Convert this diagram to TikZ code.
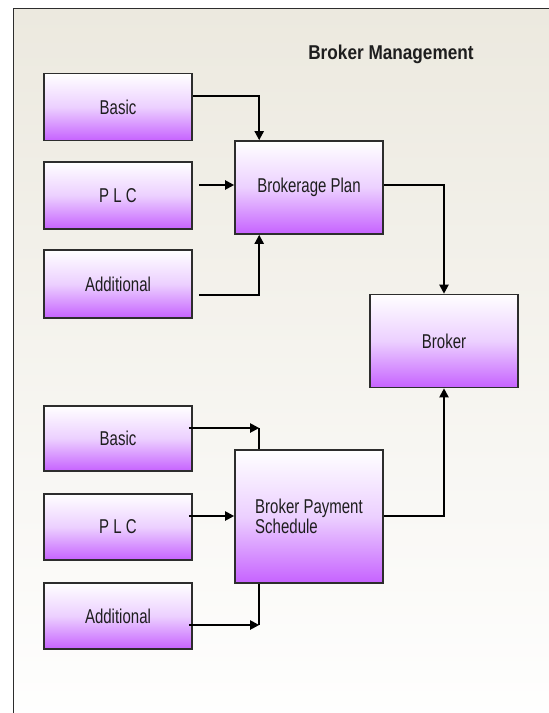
\documentclass[tikz,border=0pt]{standalone}
\usepackage{fontspec}
\setmainfont{Liberation Sans}
\usetikzlibrary{arrows.meta,calc}
\definecolor{panelbeige}{RGB}{236,233,223}
\definecolor{boxviolet}{RGB}{198,98,255}
\definecolor{boxlilac}{RGB}{236,208,255}
\definecolor{edgegray}{RGB}{45,45,45}
\definecolor{labelgray}{RGB}{30,30,30}
\tikzset{
  unitbox/.style={draw=edgegray, line width=1.6pt, inner sep=0pt,
    top color=white, bottom color=boxviolet, middle color=boxlilac,
    minimum width=148pt, text=labelgray,
    font=\fontsize{20}{21}\selectfont},
  link/.style={draw=black, line width=2pt},
  flow/.style={link, -{Triangle[length=9pt,width=9pt]}},
}
\newcommand{\narrow}[1]{\scalebox{0.75}[1]{#1}}
\begin{document}
\begin{tikzpicture}[x=1pt,y=-1pt]
  \useasboundingbox (0,0) rectangle (549,713);
  % panel background
  \shade[top color=panelbeige, bottom color=white] (13,8) rectangle (560,740);
  \draw[edgegray, line width=1pt] (13,740) -- (13,8) -- (560,8);

  % title
  \node[font=\fontsize{20}{22}\selectfont\bfseries, text=labelgray] (title) at (391,54) {\scalebox{0.86}[1]{Broker Management}};

  % upper group
  \node[unitbox, minimum height=67pt] (b1) at (118,107) {\narrow{Basic}};
  \node[unitbox, minimum height=67pt] (p1) at (118,195.5) {\narrow{P L C}};
  \node[unitbox, minimum height=68pt] (a1) at (118,284) {\narrow{Additional}};
  \node[unitbox, minimum height=93pt] (bp) at (309,187.5) {\narrow{Brokerage Plan}};

  % broker
  \node[unitbox, minimum height=93pt] (br) at (444,341) {\narrow{Broker}};

  % lower group
  \node[unitbox, minimum height=65pt] (b2) at (118,438.5) {\narrow{Basic}};
  \node[unitbox, minimum height=66pt] (p2) at (118,527) {\narrow{P L C}};
  \node[unitbox, minimum height=66pt] (a2) at (118,616) {\narrow{Additional}};
  \node[unitbox, minimum height=133pt, align=left] (bps) at (309,516.5)
    {\narrow{Broker Payment}\\[-1pt]\narrow{Schedule}};

  % upper connectors
  \draw[flow] ([yshift=11pt]b1.east) -| ([xshift=25pt]bp.north west);
  \draw[flow] ([xshift=6pt,yshift=10.5pt]p1.east) -- ([yshift=10.5pt]p1.east -| bp.west);
  \draw[flow] ([xshift=6pt,yshift=-11pt]a1.east) -| ([xshift=25pt]bp.south west);
  \draw[flow] ([yshift=2.5pt]bp.east) -| (br.north);

  % lower connectors
  \coordinate (jb) at ([yshift=10.5pt]b2.east -| {$([xshift=25pt]bps.north west)$});
  \coordinate (ja) at ([yshift=-9pt]a2.east -| {$([xshift=25pt]bps.south west)$});
  \draw[flow] ([xshift=-4pt,yshift=10.5pt]b2.east) -- (jb);
  \draw[link] (jb) -- ([xshift=25pt]bps.north west);
  \draw[flow] ([xshift=-4pt,yshift=11pt]p2.east) -- ([yshift=11pt]p2.east -| bps.west);
  \draw[flow] ([xshift=-4pt,yshift=-9pt]a2.east) -- (ja);
  \draw[link] ([xshift=25pt]bps.south west) -- (ja);
  \draw[flow] ([yshift=0.5pt]bps.east) -| (br.south);
\end{tikzpicture}
\end{document}
